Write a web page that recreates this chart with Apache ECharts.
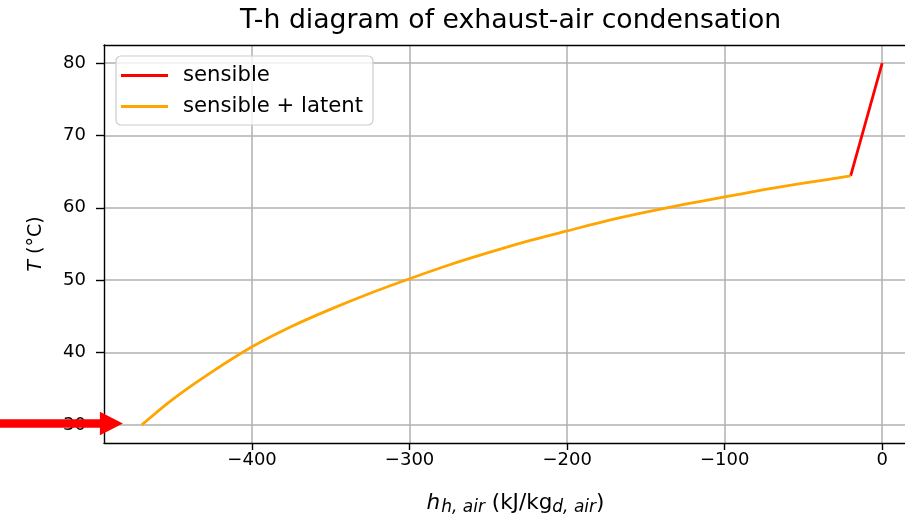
<!DOCTYPE html>
<html>
<head>
<meta charset="utf-8">
<script src="https://cdn.jsdelivr.net/npm/echarts@6/dist/echarts.min.js"></script>
<style>
  html, body { margin: 0; padding: 0; background: #ffffff; }
  #chart { width: 905px; height: 519px; }
</style>
</head>
<body>
<div id="chart"></div>
<script>
// Enthalpy change of the exhaust air (kJ/kg dry air) against its temperature (°C)
const latentH = [-470, -450, -425, -400, -375, -350, -325, -300, -275, -250, -225, -200, -175, -150, -125, -100, -75, -50, -20];
const latentT = [30.0, 33.6, 37.4, 40.8, 43.6, 46.0, 48.2, 50.2, 52.1, 53.8, 55.4, 56.8, 58.2, 59.4, 60.5, 61.5, 62.5, 63.4, 64.4];
const sensibleH = [-20, 0];
const sensibleT = [64.4, 80];

const xTicks = [-400, -300, -200, -100, 0];
const yTicks = [30, 40, 50, 60, 70, 80];

// Inlet marker pointing at the end state of the condensation line
const arrowFrom = [-575, 30.2];
const arrowTo = [-482, 30.2];

const FONT = 'DejaVu Sans';
const zip = (xs, ys) => xs.map((x, i) => [x, ys[i]]);
const minus = v => String(v).replace('-', '\u2212');

const chart = echarts.init(document.getElementById('chart'), null, { renderer: 'canvas' });

const option = {
  animation: false,
  backgroundColor: '#ffffff',
  textStyle: { fontFamily: FONT },
  title: {
    text: 'T-h diagram of exhaust-air condensation',
    left: 240,
    top: 8,
    padding: 0,
    textStyle: { fontFamily: FONT, fontSize: 26.7, fontWeight: 'normal', color: '#000000' }
  },
  grid: { left: 104, top: 45, right: 0, bottom: 76, containLabel: false, outerBoundsMode: 'none' },
  legend: {
    data: ['sensible', 'sensible + latent'],
    orient: 'vertical',
    left: 116,
    top: 56,
    icon: 'rect',
    itemWidth: 47,
    itemHeight: 3,
    itemGap: 10,
    padding: [9, 10, 8, 5],
    backgroundColor: 'rgba(255,255,255,0.8)',
    borderColor: '#cccccc',
    borderWidth: 1.2,
    borderRadius: 5,
    textStyle: { fontFamily: FONT, fontSize: 21.2, color: '#000000', padding: [0, 0, 0, 10] }
  },
  xAxis: [{
    type: 'value',
    min: -494,
    max: 14.5,
    name: '{i|h}{s|h, air}{n| (kJ/kg}{s|d, air}{n|)}',
    nameLocation: 'middle',
    nameGap: 44,
    nameTextStyle: {
      padding: [0, 0, 0, 22],
      rich: {
        i: { fontFamily: FONT, fontSize: 21.5, fontStyle: 'italic', color: '#000', lineHeight: 32, verticalAlign: 'middle', padding: [0, 1, 0, 0] },
        n: { fontFamily: FONT, fontSize: 21.5, color: '#000', lineHeight: 32, verticalAlign: 'middle' },
        s: { fontFamily: FONT, fontSize: 17, fontStyle: 'italic', color: '#000', lineHeight: 32, verticalAlign: 'middle', padding: [10, 0, 0, 0] }
      }
    },
    axisLine: { show: true, onZero: false, lineStyle: { color: '#000000', width: 1.4 } },
    axisTick: { show: true, customValues: xTicks, length: 7, lineStyle: { color: '#000000', width: 1.4 } },
    axisLabel: {
      customValues: xTicks,
      margin: 8,
      fontFamily: FONT,
      fontSize: 18,
      color: '#000000',
      formatter: v => minus(v)
    },
    splitLine: { show: true, lineStyle: { color: '#b0b0b0', width: 1.5 } }
  }, {
    // top frame line
    type: 'value',
    position: 'top',
    min: -494,
    max: 14.5,
    axisLine: { show: true, onZero: false, lineStyle: { color: '#000000', width: 1.4 } },
    axisTick: { show: false },
    axisLabel: { show: false },
    splitLine: { show: false }
  }],
  yAxis: {
    type: 'value',
    min: 27.5,
    max: 82.5,
    name: '{i|T} (°C)',
    nameLocation: 'middle',
    nameGap: 58,
    nameTextStyle: {
      fontFamily: FONT,
      fontSize: 19,
      color: '#000000',
      rich: { i: { fontFamily: FONT, fontSize: 19, fontStyle: 'italic', color: '#000000' } }
    },
    axisLine: { show: true, onZero: false, lineStyle: { color: '#000000', width: 1.4 } },
    axisTick: { show: true, customValues: yTicks, length: 8, lineStyle: { color: '#000000', width: 1.4 } },
    axisLabel: {
      customValues: yTicks,
      margin: 18,
      fontFamily: FONT,
      fontSize: 18,
      color: '#000000'
    },
    splitLine: { show: true, lineStyle: { color: '#b0b0b0', width: 1.5 } }
  },
  series: [{
    name: 'sensible',
    type: 'line',
    data: zip(sensibleH, sensibleT),
    symbol: 'none',
    color: '#ff0000',
    lineStyle: { color: '#ff0000', width: 2.8 },
    z: 3
  }, {
    name: 'sensible + latent',
    type: 'line',
    data: zip(latentH, latentT),
    symbol: 'none',
    smooth: 0.3,
    color: '#ffa500',
    lineStyle: { color: '#ffa500', width: 2.8 },
    z: 3
  }]
};

chart.setOption(option);

// Arrow drawn in pixel space from data-space anchors
const p0 = chart.convertToPixel({ gridIndex: 0 }, arrowFrom);
const p1 = chart.convertToPixel({ gridIndex: 0 }, arrowTo);
const headLen = 23, headHalf = 11.7, shaftHalf = 4.3;
const yc = p1[1];
chart.setOption({
  graphic: [{
    type: 'polygon',
    z: 100,
    shape: {
      points: [
        [p0[0], yc - shaftHalf],
        [p1[0] - headLen, yc - shaftHalf],
        [p1[0] - headLen, yc - headHalf],
        [p1[0], yc],
        [p1[0] - headLen, yc + headHalf],
        [p1[0] - headLen, yc + shaftHalf],
        [p0[0], yc + shaftHalf]
      ]
    },
    style: { fill: '#ff0000' }
  }]
});
</script>
</body>
</html>
